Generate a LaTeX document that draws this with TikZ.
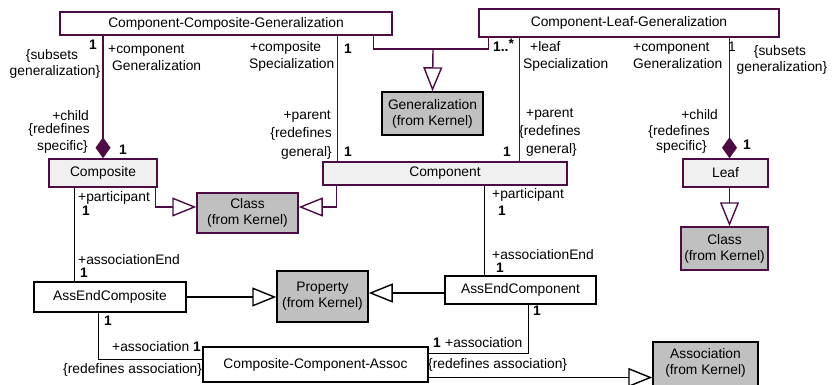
\documentclass[tikz,border=0pt]{standalone}
\usepackage{fontspec}
\setmainfont{Liberation Sans}
\usetikzlibrary{arrows.meta,calc}
\definecolor{umlpurple}{RGB}{78,12,70}
\definecolor{kernelgray}{RGB}{192,192,192}
\definecolor{lightfill}{RGB}{240,240,240}
\begin{document}
\begin{tikzpicture}[x=1pt,y=-1pt,
  every node/.style={font=\fontsize{13.8pt}{16pt}\selectfont},
  box/.style={draw, line width=1.5pt, inner sep=0pt, align=center},
  pbox/.style={box, draw=umlpurple, fill=white},
  lbox/.style={box, draw=umlpurple, fill=lightfill},
  kbox/.style={box, draw=umlpurple, fill=kernelgray},
  kbbox/.style={box, draw=black, fill=kernelgray},
  bbox/.style={box, draw=black, fill=white},
  pl/.style={draw=umlpurple, line width=1.4pt},
  bl/.style={draw=black, line width=1.4pt},
  gentip/.style={-{Triangle[open, length=24pt, width=19pt, line width=1.4pt]}},
  comptip/.style={-{Diamond[length=21pt, width=15pt]}},
  lbl/.style={inner sep=0pt, text height=9.5pt, text depth=2.5pt},
  mult/.style={lbl, font=\fontsize{13.8pt}{16pt}\selectfont\bfseries}
]
\useasboundingbox (0,0) rectangle (832,385);
\clip (0,0) rectangle (832,385);

% boxes
\node[pbox, minimum width=332pt, minimum height=23pt] (ccg) at (226,23.5) {Component-Composite-Generalization};
\node[pbox, minimum width=300pt, minimum height=28pt] (clg) at (629,23) {Component-Leaf-Generalization};
\node[kbbox, minimum width=101pt, minimum height=43pt] (gen) at (432.5,113.5) {Generalization\\(from Kernel)};
\node[lbox, minimum width=108pt, minimum height=28pt] (composite) at (103,173) {Composite};
\node[lbox, minimum width=244pt, minimum height=23pt] (component) at (445,173.5) {Component};
\node[lbox, minimum width=85pt, minimum height=28pt] (leaf) at (725.5,173) {Leaf};
\node[kbox, minimum width=101pt, minimum height=40pt] (class1) at (247.5,213) {Class\\(from Kernel)};
\node[kbox, minimum width=87pt, minimum height=43pt] (class2) at (724.5,248.5) {Class\\(from Kernel)};
\node[bbox, minimum width=152pt, minimum height=30pt] (aec) at (110,297) {AssEndComposite};
\node[kbbox, minimum width=91pt, minimum height=51pt] (prop) at (322.5,296.5) {Property\\(from Kernel)};
\node[bbox, minimum width=151pt, minimum height=28pt] (aep) at (520.5,290) {AssEndComponent};
\node[bbox, minimum width=225pt, minimum height=35pt] (cca) at (315.5,364.5) {Composite-Component-Assoc};
\node[kbbox, minimum width=105pt, minimum height=50pt] (assoc) at (705.5,367) {};
\node[inner sep=0pt, align=center] (assoctext) at (705.5,363) {Association\\(from Kernel)};

% generalization tree to Generalization
\coordinate (gj) at (433,49);
\draw[pl] ([xshift=-19pt]ccg.south east) |- (gj);
\draw[pl] ([xshift=10pt]clg.south west) |- (gj);
\draw[pl, gentip] (gj) -- (gen.north);

% composition associations
\draw[pl, comptip] (composite.north |- ccg.south) -- (composite.north);
\draw[pl] ([xshift=15pt]component.north west |- ccg.south) -- ([xshift=15pt]component.north west);
\draw[pl] ([xshift=-48pt]component.north east |- clg.south) -- ([xshift=-48pt]component.north east);
\draw[pl, comptip] ([xshift=4pt]leaf.north |- clg.south) -- ([xshift=4pt]leaf.north);

% generalizations to Class
\draw[pl, gentip] ([xshift=-2pt]composite.south east) |- ([yshift=6pt]class1.west);
\draw[pl, gentip] ([xshift=14pt]component.south west) |- ([yshift=6pt]class1.east);
\draw[pl, gentip] ([xshift=4pt]leaf.south) -- ([xshift=4pt]leaf.south |- class2.north);

% black associations
\draw[bl] ([xshift=26pt]composite.south west) -- ([xshift=26pt]composite.south west |- aec.north);
\draw[bl] ([xshift=40pt]aep.north west |- component.south) -- ([xshift=40pt]aep.north west);
\draw[bl, gentip] (aec.east) -- (aec.east -| prop.west);
\draw[bl, gentip] ([yshift=-3pt]aep.west) -- ([yshift=-3pt]aep.west -| prop.east);
\draw[bl] ([xshift=65pt]aec.south west) |- ([yshift=5pt]cca.west);
\draw[bl] ([xshift=84pt]aep.south west) |- ([yshift=11pt]cca.east);
\draw[bl, gentip] ([yshift=-13pt]cca.east) -- ([yshift=-13pt]cca.east -| assoc.west);

% labels top-left
\node[mult] (m1) at (93,46) {1};
\node[lbl] (t1a) at (52,56) {\{subsets};
\node[lbl] (t1b) at (55,72) {generalization\}};
\node[lbl, anchor=west] (t2a) at (108,50) {+component};
\node[lbl, anchor=west] (t2b) at (112,67) {Generalization};
\node[lbl, anchor=west] (t3a) at (250,48) {+composite};
\node[lbl, anchor=west] (t3b) at (249,65) {Specialization};
\node[mult] (m2) at (348,50) {1};
\node[lbl, anchor=east] (t4a) at (89,117.5) {+child};
\node[lbl, anchor=east] (t4b) at (90,130) {\{redefines};
\node[lbl, anchor=east] (t4c) at (88,147) {specific\}};
\node[mult] (m3) at (123,151) {1};
\node[lbl, anchor=east] (t5a) at (331,116) {+parent};
\node[lbl, anchor=east] (t5b) at (332,134) {\{redefines};
\node[lbl, anchor=east] (t5c) at (332,153) {general\}};
\node[mult] (m4) at (348,153) {1};

% labels top-right
\node[mult, anchor=west] (m5) at (493,48) {1..\raisebox{3pt}{*}};
\node[lbl, anchor=west] (t6a) at (530,48) {+leaf};
\node[lbl, anchor=west] (t6b) at (523,65) {Specialization};
\node[lbl, anchor=west] (t7a) at (633,48) {+component};
\node[lbl, anchor=west] (t7b) at (633,65) {Generalization};
\node[lbl] (m6) at (732,48) {1};
\node[lbl] (t8a) at (780,52) {\{subsets};
\node[lbl] (t8b) at (782,68) {generalization\}};
\node[lbl, anchor=west] (t9a) at (526,114) {+parent};
\node[lbl, anchor=west] (t9b) at (519,132) {\{redefines};
\node[lbl, anchor=west] (t9c) at (526,150) {general\}};
\node[mult] (m7) at (507,153) {1};
\node[lbl, anchor=east] (t10a) at (718,116) {+child};
\node[lbl, anchor=east] (t10b) at (710,132) {\{redefines};
\node[lbl, anchor=east] (t10c) at (707,147) {specific\}};
\node[mult] (m8) at (747,146) {1};

% labels middle
\node[lbl, anchor=west] (t11) at (78,198) {+participant};
\node[mult] (m9) at (86,212) {1};
\node[lbl, anchor=west] (t12) at (78,261) {+associationEnd};
\node[mult] (m10) at (84,274) {1};
\node[lbl, anchor=west] (t13) at (492,195) {+participant};
\node[mult] (m11) at (502,212) {1};
\node[lbl, anchor=west] (t14) at (492,256) {+associationEnd};
\node[mult] (m12) at (500,269) {1};

% labels bottom
\node[mult] (m13) at (108,322) {1};
\node[lbl, anchor=west] (t15) at (112,348) {+association};
\node[mult] (m14) at (197,348) {1};
\node[lbl, anchor=west] (t16) at (63,370) {\{redefines association\}};
\node[mult] (m15) at (537,312) {1};
\node[mult] (m16) at (437,344) {1};
\node[lbl, anchor=west] (t17) at (445,344) {+association};
\node[lbl, anchor=west] (t18) at (428,365) {\{redefines association\}};
\end{tikzpicture}
\end{document}
